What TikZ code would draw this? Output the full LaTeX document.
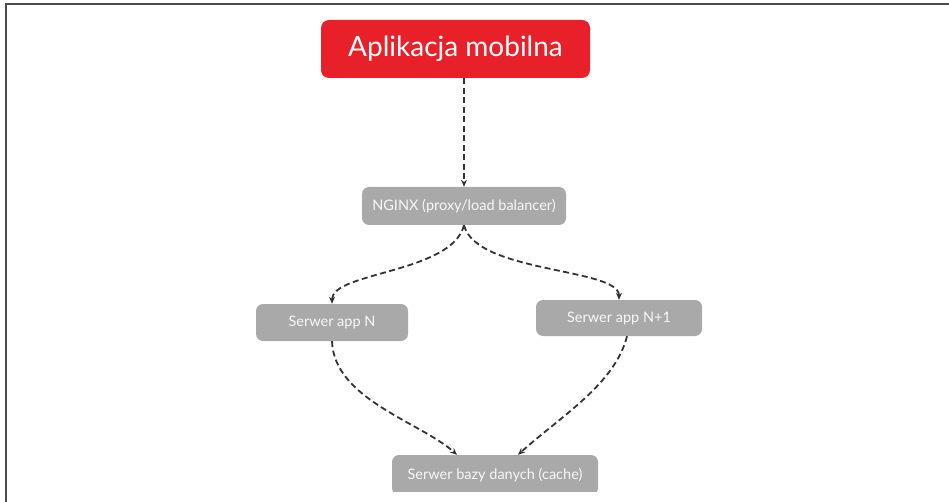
\documentclass[tikz,border=0pt]{standalone}
\usepackage{fontspec}
\setmainfont{Lato}
\usetikzlibrary{arrows.meta}
\definecolor{appred}{HTML}{E8202A}
\definecolor{boxgray}{HTML}{A9A9A9}
\definecolor{linegray}{HTML}{333333}

\begin{document}
\begin{tikzpicture}[x=1pt,y=-1pt,
    redbox/.style={fill=appred, rounded corners=8pt, text=white, font=\fontsize{28}{32}\selectfont, inner sep=0pt},
    graybox/.style={fill=boxgray, rounded corners=7pt, text=white!94!gray, font=\fontsize{14.5}{17}\selectfont, inner sep=0pt},
    flow/.style={linegray, line width=1.8pt, dash pattern=on 6pt off 3.5pt, -{Stealth[length=7pt,width=6pt]}}]
    \useasboundingbox (0,0) rectangle (949,502);
    \draw[line width=1.6pt, black!70] (949,4) -- (6,4) -- (6,502);
    \clip (0,0) rectangle (949,491);
    \node[redbox, minimum width=269pt, minimum height=58pt] (app) at (455.5,49) {Aplikacja mobilna};
    \node[graybox, minimum width=204pt, minimum height=38pt] (nginx) at (464,206) {NGINX (proxy/load balancer)};
    \node[graybox, minimum width=152pt, minimum height=37pt] (srvn) at (332,322.5) {Serwer app N};
    \node[graybox, minimum width=166pt, minimum height=36pt] (srvn1) at (619,318) {Serwer app N+1};
    \node[graybox, minimum width=206pt, minimum height=40pt] (db) at (495,475) {Serwer bazy danych (cache)};
    \draw[flow] (nginx.north |- app.south) -- (nginx.north);
    \draw[flow] (nginx.south) .. controls +(-12,48) and +(0,-32) .. (srvn.north);
    \draw[flow] (nginx.south) .. controls +(12,48) and +(0,-32) .. (srvn1.north);
    \draw[flow] (srvn.south) .. controls +(2,58) and +(-37,-33) .. ([xshift=-38pt]db.north);
    \draw[flow] ([xshift=8pt]srvn1.south) .. controls +(-12,48) and +(42,-38) .. ([xshift=23pt]db.north);
\end{tikzpicture}
\end{document}
